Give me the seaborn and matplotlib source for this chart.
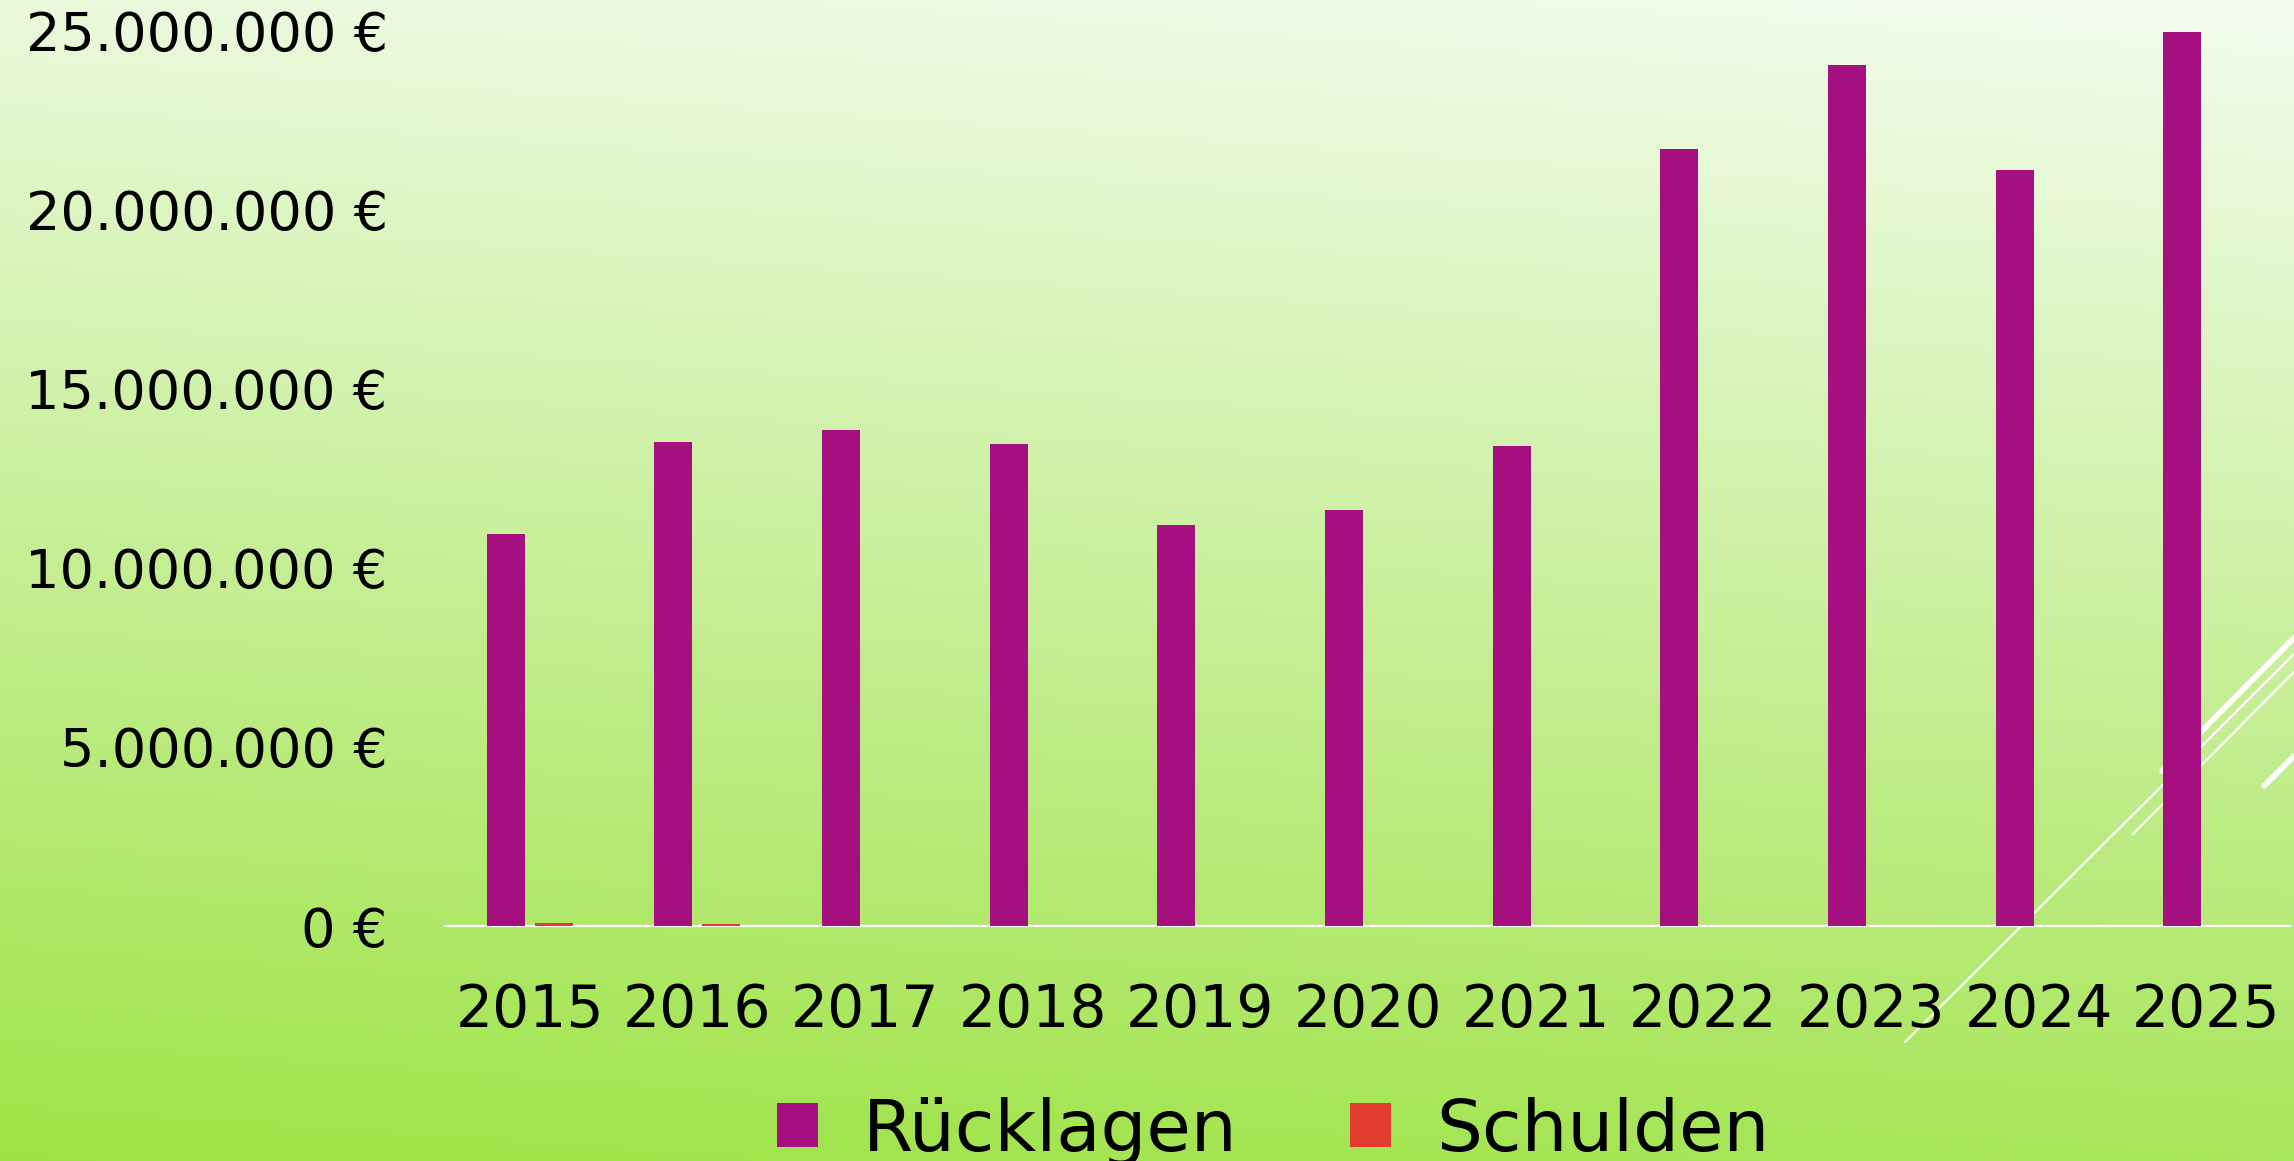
import numpy as np
import pandas as pd
import matplotlib
matplotlib.use('Agg')
import matplotlib.pyplot as plt
import seaborn as sns


years = ['2015', '2016', '2017', '2018', '2019', '2020', '2021', '2022', '2023', '2024', '2025']
ruecklagen = [10.94e6, 13.52e6, 13.84e6, 13.47e6, 11.19e6, 11.60e6, 13.39e6, 21.68e6, 24.05e6, 21.11e6, 24.95e6]
schulden = [80000, 55000, 0, 0, 0, 0, 0, 0, 0, 0, 0]
series_names = ['Rücklagen', 'Schulden']
y_ticks = [0, 5e6, 10e6, 15e6, 20e6, 25e6]

colors = {'Rücklagen': '#A50F80', 'Schulden': '#E43B2F'}

sns.set_style('white')
plt.rcParams['font.family'] = ['DejaVu Sans']
plt.rcParams['axes.unicode_minus'] = False


def EuroLabel(v):
    s = f'{int(round(v)):,}'.replace(',', '.')
    return f'{s} €'


def DrawBackground(fig):
    W, H = 2294, 1161
    bg = fig.add_axes([0, 0, 1, 1], zorder=0)
    yy, xx = np.mgrid[0:H:4, 0:W:4]
    t = 0.88 * (yy / H) + 0.12 * (1 - xx / W)
    t = np.clip(t, 0, 1)[..., None]
    top = np.array([244, 252, 240]) / 255
    bot = np.array([158, 227, 70]) / 255
    img = top * (1 - t) + bot * t
    bg.imshow(img, extent=[0, W, H, 0], aspect='auto', interpolation='bilinear')
    # decorative white strokes bottom right
    deco = [((1905, 2294), (1042, 654), 1.6),
            ((2133, 2294), (834, 672), 1.6),
            ((2162, 2294), (771, 638), 4.0),
            ((2264, 2294), (786, 756), 4.0)]
    for xs, ys, lw in deco:
        bg.plot(xs, ys, color='white', lw=lw, solid_capstyle='round')
    bg.set_xlim(0, W)
    bg.set_ylim(H, 0)
    bg.axis('off')


fig = plt.figure(figsize=(22.94, 11.61), dpi=100)
DrawBackground(fig)

df = pd.DataFrame({
    'year': years * 2,
    'value': ruecklagen + schulden,
    'series': [series_names[0]] * len(years) + [series_names[1]] * len(years),
})

ax = fig.add_axes([446 / 2294, 1 - 926 / 1161, (2290 - 446) / 2294, (926 - 30.5) / 1161], zorder=1)
ax.set_facecolor('none')
sns.barplot(data=df, x='year', y='value', hue='series', palette=colors,
            width=0.573, gap=0.21, saturation=1, linewidth=0, ax=ax)

ax.set_xlim(-0.5, len(years) - 0.5)
ax.set_ylim(0, 25e6)
ax.set_yticks(y_ticks)
ax.set_yticklabels([EuroLabel(v) for v in y_ticks])
ax.set_xlabel('')
ax.set_ylabel('')
ax.tick_params(axis='y', length=0, pad=42, labelsize=39, labelcolor='black')
ax.tick_params(axis='x', length=0, pad=40, labelsize=42, labelcolor='black')
for side in ['top', 'right', 'left']:
    ax.spines[side].set_visible(False)
ax.spines['bottom'].set_color('white')
ax.spines['bottom'].set_linewidth(1.6)
ax.spines['bottom'].set_zorder(0.5)
ax.grid(False)

sns.move_legend(ax, 'center', bbox_to_anchor=(0.555, 1 - 1131 / 1161),
                bbox_transform=fig.transFigure, ncol=2, frameon=False, title=None,
                fontsize=52, labelcolor='black', handlelength=0.57, handleheight=0.57,
                handletextpad=0.63, columnspacing=1.55, borderpad=0)
for h in ax.get_legend().legend_handles:
    h.set_linewidth(0)

fig.savefig('out.png', dpi=100)
